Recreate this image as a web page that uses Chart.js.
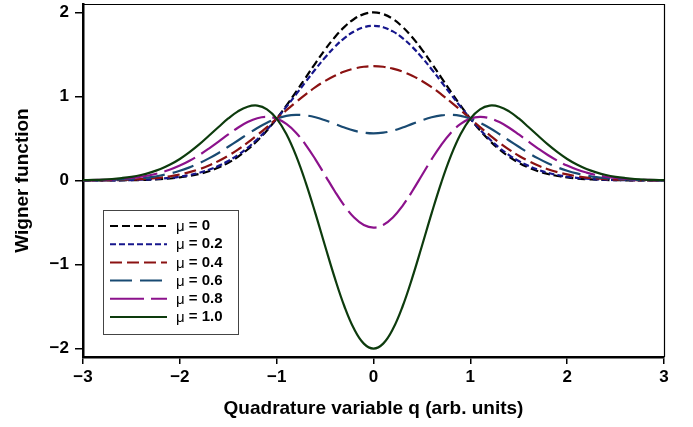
<!DOCTYPE html>
<html>
<head>
<meta charset="utf-8">
<script src="https://cdn.jsdelivr.net/npm/chart.js@4.4.1/dist/chart.umd.min.js"></script>
<style>
  html, body { margin: 0; padding: 0; background: #fff; }
  #wrap { width: 693px; height: 427px; }
</style>
</head>
<body>
<div id="wrap"><canvas id="myChart" width="693" height="427"></canvas></div>
<script>
// quadrature variable q (x axis)
const q = [-3, -2.9, -2.8, -2.7, -2.6, -2.5, -2.4, -2.3, -2.2, -2.1, -2, -1.9, -1.8, -1.7, -1.6, -1.5, -1.4, -1.3, -1.2, -1.1,
  -1, -0.9, -0.8, -0.7, -0.6, -0.5, -0.4, -0.3, -0.2, -0.1, 0, 0.1, 0.2, 0.3, 0.4, 0.5, 0.6, 0.7, 0.8, 0.9,
  1, 1.1, 1.2, 1.3, 1.4, 1.5, 1.6, 1.7, 1.8, 1.9, 2, 2.1, 2.2, 2.3, 2.4, 2.5, 2.6, 2.7, 2.8, 2.9, 3];

// Wigner function values
const w0 = [0, 0, 0.001, 0.001, 0.002, 0.004, 0.006, 0.010, 0.016, 0.024, 0.037, 0.054, 0.078, 0.111, 0.155, 0.211, 0.282, 0.369, 0.474, 0.596,
  0.736, 0.890, 1.055, 1.225, 1.395, 1.558, 1.704, 1.828, 1.922, 1.980, 2.000, 1.980, 1.922, 1.828, 1.704, 1.558, 1.395, 1.225, 1.055, 0.890,
  0.736, 0.596, 0.474, 0.369, 0.282, 0.211, 0.155, 0.111, 0.078, 0.054, 0.037, 0.024, 0.016, 0.010, 0.006, 0.004, 0.002, 0.001, 0.001, 0, 0];
const w02 = [0, 0.001, 0.001, 0.002, 0.003, 0.005, 0.009, 0.014, 0.021, 0.031, 0.045, 0.065, 0.092, 0.128, 0.174, 0.232, 0.303, 0.389, 0.491, 0.606,
  0.736, 0.876, 1.024, 1.175, 1.324, 1.464, 1.590, 1.695, 1.774, 1.823, 1.840, 1.823, 1.774, 1.695, 1.590, 1.464, 1.324, 1.175, 1.024, 0.876,
  0.736, 0.606, 0.491, 0.389, 0.303, 0.232, 0.174, 0.128, 0.092, 0.065, 0.045, 0.031, 0.021, 0.014, 0.009, 0.005, 0.003, 0.002, 0.001, 0.001, 0];
const w04 = [0.001, 0.001, 0.002, 0.004, 0.007, 0.010, 0.016, 0.024, 0.035, 0.051, 0.072, 0.099, 0.134, 0.178, 0.232, 0.295, 0.368, 0.450, 0.541, 0.636,
  0.736, 0.836, 0.933, 1.025, 1.110, 1.184, 1.246, 1.296, 1.331, 1.353, 1.360, 1.353, 1.331, 1.296, 1.246, 1.184, 1.110, 1.025, 0.933, 0.836,
  0.736, 0.636, 0.541, 0.450, 0.368, 0.295, 0.232, 0.178, 0.134, 0.099, 0.072, 0.051, 0.035, 0.024, 0.016, 0.010, 0.007, 0.004, 0.002, 0.001, 0.001];
const w06 = [0.002, 0.003, 0.005, 0.008, 0.012, 0.018, 0.028, 0.041, 0.060, 0.084, 0.116, 0.156, 0.205, 0.263, 0.328, 0.401, 0.476, 0.552, 0.624, 0.687,
  0.736, 0.768, 0.781, 0.775, 0.752, 0.716, 0.674, 0.630, 0.593, 0.569, 0.560, 0.569, 0.593, 0.630, 0.674, 0.716, 0.752, 0.775, 0.781, 0.768,
  0.736, 0.687, 0.624, 0.552, 0.476, 0.401, 0.328, 0.263, 0.205, 0.156, 0.116, 0.084, 0.060, 0.041, 0.028, 0.018, 0.012, 0.008, 0.005, 0.003, 0.002];
const w08 = [0.003, 0.005, 0.008, 0.012, 0.019, 0.030, 0.045, 0.065, 0.094, 0.130, 0.177, 0.235, 0.303, 0.380, 0.463, 0.548, 0.628, 0.695, 0.741, 0.757,
  0.736, 0.673, 0.569, 0.425, 0.252, 0.062, -0.128, -0.301, -0.440, -0.529, -0.560, -0.529, -0.440, -0.301, -0.128, 0.062, 0.252, 0.425, 0.569, 0.673,
  0.736, 0.757, 0.741, 0.695, 0.628, 0.548, 0.463, 0.380, 0.303, 0.235, 0.177, 0.130, 0.094, 0.065, 0.045, 0.030, 0.019, 0.012, 0.008, 0.005, 0.003];
const w10 = [0.004, 0.007, 0.011, 0.018, 0.029, 0.044, 0.066, 0.097, 0.137, 0.190, 0.256, 0.337, 0.429, 0.532, 0.637, 0.738, 0.823, 0.878, 0.891, 0.847,
  0.736, 0.552, 0.295, -0.025, -0.391, -0.779, -1.159, -1.499, -1.768, -1.941, -2.000, -1.941, -1.768, -1.499, -1.159, -0.779, -0.391, -0.025, 0.295, 0.552,
  0.736, 0.847, 0.891, 0.878, 0.823, 0.738, 0.637, 0.532, 0.429, 0.337, 0.256, 0.190, 0.137, 0.097, 0.066, 0.044, 0.029, 0.018, 0.011, 0.007, 0.004];

const muLabels = ["0", "0.2", "0.4", "0.6", "0.8", "1.0"];
const xTicks = [-3, -2, -1, 0, 1, 2, 3];
const yTicks = [-2, -1, 0, 1, 2];

const series = [w0, w02, w04, w06, w08, w10];
const colores = ["#000000", "#16168c", "#8b1212", "#194a72", "#8c128c", "#0d3b0d"];
const guiones = [[8, 4], [6, 3], [12, 5], [22, 8], [34, 7], []];

const FONT = "'Liberation Sans', Arial, sans-serif";

const datasets = series.map((s, i) => ({
  label: "\u03bc = " + muLabels[i],
  data: s.map((v, j) => ({ x: q[j], y: v })),
  borderColor: colores[i],
  borderWidth: 2.2,
  borderDash: guiones[i],
  pointRadius: 0,
  tension: 0.4,
  fill: false,
  order: series.length - i,
}));

const minus = (v) => (v < 0 ? "\u2212" + Math.abs(v) : String(v));

// border on top/right and the legend box inside the plot
const extras = {
  id: "extras",
  afterDraw(chart) {
    const { ctx, chartArea: a } = chart;
    ctx.save();
    ctx.strokeStyle = "#000";
    ctx.lineWidth = 1.2;
    ctx.beginPath();
    ctx.moveTo(a.left, a.top + 0.5);
    ctx.lineTo(a.right + 0.5, a.top + 0.5);
    ctx.lineTo(a.right + 0.5, a.bottom);
    ctx.stroke();

    const bx = a.left + 20, by = a.top + 206, bw = 135, bh = 124;
    ctx.fillStyle = "#fff";
    ctx.fillRect(bx, by, bw, bh);
    ctx.strokeStyle = "#444";
    ctx.lineWidth = 1;
    ctx.strokeRect(bx + 0.5, by + 0.5, bw, bh);

    chart.data.datasets.forEach((d, i) => {
      const y = by + 16 + i * 18.2;
      ctx.strokeStyle = d.borderColor;
      ctx.lineWidth = 2;
      ctx.setLineDash(d.borderDash);
      ctx.beginPath();
      ctx.moveTo(bx + 7, y);
      ctx.lineTo(bx + 64, y);
      ctx.stroke();
      ctx.setLineDash([]);
      ctx.fillStyle = "#000";
      ctx.textBaseline = "middle";
      ctx.font = "15px " + FONT;
      ctx.fillText("\u03bc", bx + 73, y + 1);
      const w = ctx.measureText("\u03bc").width;
      ctx.font = "bold 15px " + FONT;
      ctx.fillText(" = " + muLabels[i], bx + 73 + w, y);
    });
    ctx.restore();
  },
};

new Chart(document.querySelector("#myChart").getContext("2d"), {
  type: "line",
  data: { datasets },
  plugins: [extras],
  options: {
    responsive: false,
    animation: false,
    layout: { padding: { top: 4, right: 29, left: 0, bottom: 0 } },
    plugins: { legend: { display: false }, tooltip: { enabled: false } },
    scales: {
      x: {
        type: "linear",
        min: -3,
        max: 3,
        afterFit: (s) => { s.height = 70; },
        afterBuildTicks: (s) => { s.ticks = xTicks.map((v) => ({ value: v })); },
        grid: { drawOnChartArea: false, drawTicks: true, tickLength: 7, color: "#000", lineWidth: 1.5 },
        border: { display: true, color: "#000", width: 2.5 },
        ticks: { color: "#000", padding: 3, font: { family: FONT, size: 17, weight: "bold" }, callback: minus },
        title: { display: true, text: "Quadrature variable q (arb. units)", color: "#000",
          font: { family: FONT, size: 19, weight: "bold" }, padding: { top: 0, bottom: 7 } },
      },
      y: {
        type: "linear",
        min: -2.1,
        max: 2.1,
        afterFit: (s) => { s.width = 83; s.paddingTop = 0; s.paddingBottom = 0; },
        afterBuildTicks: (s) => { s.ticks = yTicks.map((v) => ({ value: v })); },
        grid: { drawOnChartArea: false, drawTicks: true, tickLength: 8, color: "#000", lineWidth: 1.5 },
        border: { display: true, color: "#000", width: 2.5 },
        ticks: { color: "#000", padding: 6, font: { family: FONT, size: 17, weight: "bold" }, callback: minus },
        title: { display: true, text: "Wigner function", color: "#000",
          font: { family: FONT, size: 19, weight: "bold" }, padding: { top: 11, bottom: 0 } },
      },
    },
  },
});
</script>
</body>
</html>
